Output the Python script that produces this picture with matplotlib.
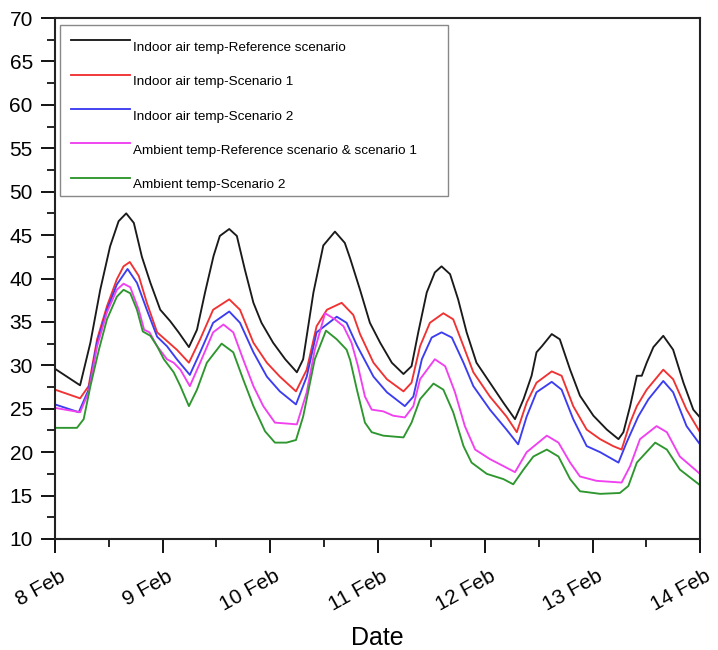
import matplotlib
matplotlib.use("Agg")
import matplotlib.pyplot as plt
import matplotlib.transforms as mtransforms
from matplotlib.ticker import MultipleLocator
import numpy as np

plt.rcParams['font.family'] = ['Liberation Sans', 'DejaVu Sans']

# times: hours since 8 Feb 00:00 ; values: temperature (°C)
black_t = [0, 5.6, 7.9, 10.1, 12.3, 14.2, 15.9, 17.6, 19.4, 21.3, 23.5, 25.7, 27.6, 29.9, 31.7, 33.5,
           35.4, 36.8, 38.9, 40.6, 42.4, 44.3, 46.1, 48.7, 51.4, 54.0, 55.4, 57.7, 59.9, 62.5, 64.7,
           65.9, 68.1, 70.3, 72.6, 75.2, 77.8, 79.6, 81.1, 83.0, 84.8, 86.3, 88.2, 90.0, 91.9, 94.1,
           97.1, 100.1, 102.7, 104.6, 106.4, 107.5, 108.7, 110.9, 112.7, 115.0, 117.2, 120.2, 123.2,
           125.8, 126.9, 128.4, 129.9, 131.0, 132.1, 133.6, 135.8, 138.0, 140.3, 142.5, 144]
black_v = [29.6, 27.7, 32.6, 38.7, 43.7, 46.6, 47.5, 46.4, 42.5, 39.5, 36.4, 35.1, 33.8, 32.1, 34.1, 38.4,
           42.6, 44.9, 45.7, 44.9, 41.0, 37.2, 34.9, 32.6, 30.7, 29.2, 30.7, 38.4, 43.8, 45.4, 44.1,
           42.3, 38.7, 34.9, 32.6, 30.3, 29.0, 29.9, 33.8, 38.4, 40.7, 41.4, 40.5, 37.6, 33.8, 30.3,
           28.0, 25.7, 23.8, 26.1, 28.8, 31.5, 32.2, 33.6, 33.0, 29.5, 26.5, 24.2, 22.6,
           21.5, 22.3, 25.3, 28.8, 28.8, 30.3, 32.1, 33.4, 31.8, 28.0, 24.9, 24.0]

red_t = [0, 5.6, 7.5, 9.4, 11.6, 13.8, 15.3, 16.7, 18.7, 20.5, 22.8, 25.0, 27.2, 29.9, 32.4, 35.3,
         38.9, 41.3, 44.3, 47.3, 50.2, 53.8, 56.2, 58.4, 60.7, 64.0, 66.6, 68.1, 71.1, 74.1, 77.8,
         79.6, 81.5, 83.7, 86.7, 88.9, 91.2, 93.4, 97.1, 100.8, 103.1, 105.3, 107.5, 110.9, 113.1,
         115.7, 118.7, 121.7, 124.6, 126.5, 128.4, 129.9, 132.1, 135.8, 138.0, 141.0, 144]
red_v = [27.2, 26.2, 27.6, 33.0, 36.8, 39.9, 41.4, 41.9, 40.3, 37.2, 33.8, 32.8, 31.8, 30.3, 33.0, 36.4,
         37.6, 36.4, 32.6, 30.3, 28.7, 27.0, 29.5, 34.5, 36.4, 37.2, 35.8, 33.6, 30.3, 28.4, 27.0,
         28.0, 32.2, 34.9, 36.0, 35.3, 32.2, 29.2, 26.4, 24.1, 22.3, 25.7, 28.0, 29.3, 28.8,
         25.3, 22.6, 21.5, 20.7, 20.3, 23.4, 25.3, 27.2, 29.5, 28.4, 24.9, 22.3]

blue_t = [0, 5.3, 7.5, 9.4, 11.6, 13.8, 16.2, 18.3, 20.5, 22.8, 25.0, 27.2, 30.1, 32.4, 35.3, 38.9,
          41.3, 44.3, 47.3, 50.2, 53.8, 56.2, 58.4, 62.9, 65.1, 67.4, 71.1, 74.1, 78.1, 80.0, 81.9,
          84.1, 86.3, 88.6, 91.2, 93.4, 97.1, 100.8, 103.4, 105.3, 107.5, 110.9, 113.1, 115.7, 118.7,
          121.7, 125.8, 127.6, 130.2, 132.5, 135.8, 138.0, 141.0, 144]
blue_v = [25.5, 24.6, 27.2, 32.6, 36.4, 39.3, 41.1, 39.5, 36.4, 33.3, 32.2, 30.7, 28.9, 31.5, 34.9, 36.2,
          34.9, 31.5, 28.7, 27.0, 25.5, 28.7, 33.8, 35.6, 34.9, 32.3, 28.7, 26.9, 25.3, 26.4, 30.7,
          33.2, 33.8, 33.2, 30.3, 27.6, 24.9, 22.6, 20.9, 24.1, 26.9, 28.1, 27.2, 23.8, 20.7,
          20.0, 18.8, 21.1, 24.1, 26.1, 28.2, 26.9, 23.0, 20.9]

magenta_t = [0, 5.6, 7.5, 9.4, 11.6, 13.8, 15.3, 16.8, 18.7, 19.9, 21.1, 22.8, 25.0, 26.5, 28.0, 30.1,
             32.4, 35.3, 37.6, 39.8, 42.0, 44.3, 46.5, 49.1, 51.7, 54.0, 56.2, 58.0, 60.3, 62.5, 64.4,
             66.2, 67.6, 69.2, 70.7, 73.3, 75.5, 78.1, 80.0, 81.5, 84.8, 87.1, 89.3, 91.5, 93.8, 97.1,
             100.1, 102.7, 105.3, 109.8, 112.4, 115.0, 117.2, 120.9, 126.5, 128.4, 130.6, 134.3,
             136.6, 139.5, 144]
magenta_v = [25.1, 24.6, 26.9, 32.2, 36.1, 38.7, 39.4, 39.0, 36.4, 34.1, 33.8, 32.2, 30.7, 30.3, 29.5, 27.6,
             30.3, 33.8, 34.7, 33.8, 30.7, 27.6, 25.3, 23.4, 23.3, 23.2, 26.9, 31.8, 36.0, 35.3, 34.5,
             32.6, 30.0, 26.4, 24.9, 24.7, 24.2, 24.0, 25.3, 28.4, 30.7, 29.9, 26.9, 23.0, 20.3, 19.2,
             18.4, 17.7, 20.0, 21.9, 21.1, 18.8, 17.2, 16.7, 16.5, 18.4, 21.5, 23.0,
             22.3, 19.5, 17.5]

green_t = [0, 4.9, 6.4, 7.9, 9.8, 11.6, 13.8, 15.3, 16.8, 18.3, 19.6, 21.3, 22.8, 24.3, 26.5, 28.0,
           29.9, 31.7, 33.9, 37.2, 39.8, 42.0, 44.3, 46.9, 49.1, 51.7, 53.8, 55.4, 58.0, 60.5, 62.9,
           65.1, 65.9, 67.4, 69.2, 70.7, 73.3, 77.8, 79.6, 81.5, 84.5, 86.7, 88.9, 91.2, 93.0, 96.4,
           100.1, 102.3, 104.6, 106.8, 109.8, 112.4, 115.0, 117.2, 121.7, 126.1, 128.0, 129.9,
           134.0, 136.6, 139.5, 144]
green_v = [22.8, 22.8, 23.8, 27.6, 31.8, 35.3, 37.9, 38.7, 38.3, 36.4, 33.9, 33.4, 32.2, 30.7, 29.2, 27.6,
           25.3, 27.2, 30.3, 32.5, 31.5, 28.4, 25.3, 22.4, 21.1, 21.1, 21.4, 24.1, 30.7, 34.0, 33.0,
           31.8, 30.6, 27.2, 23.4, 22.3, 21.9, 21.7, 23.4, 26.1, 27.9, 27.2, 24.6, 20.7, 18.8, 17.5,
           16.9, 16.3, 18.0, 19.5, 20.3, 19.5, 16.9, 15.5, 15.2, 15.3, 16.1, 18.8,
           21.1, 20.3, 18.0, 16.2]

labels = ["Indoor air temp-Reference scenario",
          "Indoor air temp-Scenario 1",
          "Indoor air temp-Scenario 2",
          "Ambient temp-Reference scenario & scenario 1",
          "Ambient temp-Scenario 2"]
colors = ["#1a1a1a", "#f03232", "#3c3cf0", "#f040f0", "#2e962e"]
day_labels = ["8 Feb", "9 Feb", "10 Feb", "11 Feb", "12 Feb", "13 Feb", "14 Feb"]

W, H = 718, 650
ax_l, ax_r, ax_t, ax_b = 55, 700, 18, 539
fig = plt.figure(figsize=(W / 100, H / 100), dpi=100)
ax = fig.add_axes([ax_l / W, (H - ax_b) / H, (ax_r - ax_l) / W, (ax_b - ax_t) / H])

series = [(black_t, black_v), (red_t, red_v), (blue_t, blue_v), (magenta_t, magenta_v), (green_t, green_v)]
lines = []
for (t, v), c, lab in zip(series, colors, labels):
    ln, = ax.plot(np.array(t) / 24.0, v, color=c, lw=1.35, label=lab, solid_joinstyle='round')
    lines.append(ln)

ax.set_xlim(0, 6)
ax.set_ylim(10, 70)
ax.yaxis.set_major_locator(MultipleLocator(5))
ax.yaxis.set_minor_locator(MultipleLocator(2.5))
ax.xaxis.set_minor_locator(MultipleLocator(0.5))
ax.set_xticks(range(7))
ax.set_xticklabels(day_labels, rotation=29, ha='right', rotation_mode='anchor', fontsize=15)
ax.tick_params(axis='y', labelsize=15, pad=6)
ax.tick_params(axis='x', pad=10)
ax.tick_params(which='major', direction='out', length=10, width=1.3, top=False, right=False)
ax.tick_params(which='minor', direction='out', length=6, width=1.2, top=False, right=False)
shift_x = mtransforms.ScaledTranslation(4 / 100, 0, fig.dpi_scale_trans)
for lbl in ax.get_xticklabels():
    lbl.set_transform(lbl.get_transform() + shift_x)
for s in ax.spines.values():
    s.set_linewidth(1.5)
    s.set_color('#222222')

ax.set_xlabel("Date", fontsize=18, labelpad=8)

pw = ax_r - ax_l
ph = ax_b - ax_t
leg = ax.legend(handles=lines, loc='upper left',
                bbox_to_anchor=((60 - ax_l) / pw, (ax_b - 195) / ph, 388 / pw, 170 / ph),
                mode='expand', borderaxespad=0, fontsize=9.7, handlelength=4.4,
                handletextpad=0.25, labelspacing=1.62, borderpad=0.8, fancybox=False,
                edgecolor='#888888', framealpha=1)
leg.get_frame().set_linewidth(1.0)
txt_shift = mtransforms.ScaledTranslation(0, -6 / 100, fig.dpi_scale_trans)
for txt in leg.get_texts():
    txt.set_transform(txt.get_transform() + txt_shift)

fig.savefig("out.png", dpi=100)
